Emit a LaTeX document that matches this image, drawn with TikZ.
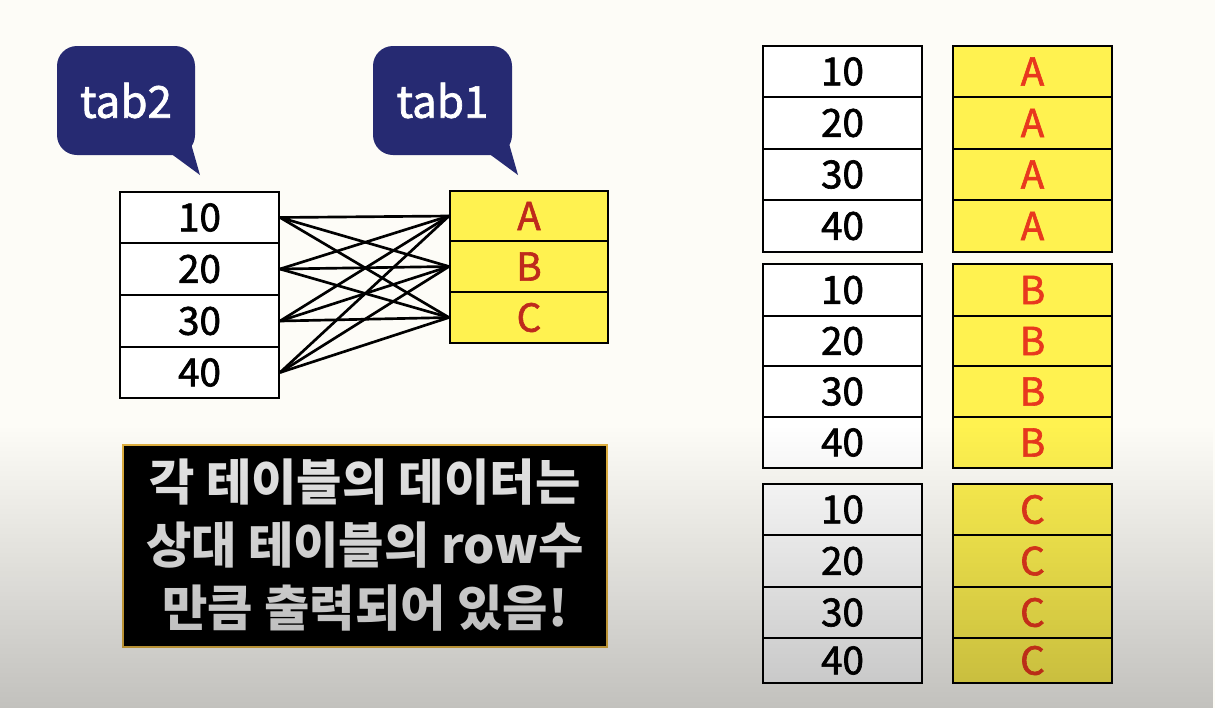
\documentclass[tikz,border=0pt]{standalone}
\usepackage{fontspec}
\setmainfont{Noto Sans CJK KR}
\newfontfamily\medf{Noto Sans CJK KR}[FakeBold=1.6]
\usetikzlibrary{fit,fadings}
\definecolor{bg}{HTML}{FDFCF7}
\definecolor{navy}{HTML}{262A72}
\definecolor{yel}{HTML}{FFF250}
\definecolor{dred}{HTML}{BE2A1C}
\definecolor{bred}{HTML}{E8381E}
\definecolor{gold}{HTML}{E0B040}
\definecolor{txtw}{HTML}{E8E8E8}
\tikzset{
  cellbox/.style={draw=black, line width=1.5pt, inner sep=0pt, fill=white},
  ycellbox/.style={cellbox, fill=yel},
  numtxt/.style={font=\medf\fontsize{29pt}{32pt}\selectfont, text=black},
  lettxt/.style={font=\medf\fontsize{29pt}{32pt}\selectfont, text=#1},
  bubble/.style={fill=navy, rounded corners=15pt, inner sep=0pt, text=white, font=\medf\fontsize{33pt}{36pt}\selectfont},
  link/.style={draw=black, line width=2pt},
}
\begin{document}
\begin{tikzpicture}[x=0.75pt, y=-0.75pt]
\useasboundingbox (0,0) rectangle (1215,708);
\fill[bg] (0,0) rectangle (1215,708);

% callouts
\node[bubble, minimum width=103.5pt, minimum height=81.75pt] (c2) at (126,100.5) {tab2};
\fill[navy] (166,150) -- (200,175) -- (190,140) -- cycle;
\node[bubble, minimum width=104.25pt, minimum height=81.75pt] (c1) at (442.5,100.5) {tab1};
\fill[navy] (484,150) -- (518,175) -- (508,140) -- cycle;

% left tab2
\foreach \n/\t/\ya/\yb in {10/10/192/243, 20/20/243/295, 30/30/295/347, 40/40/347/398}{
  \node[cellbox, fit={(120,\ya)(279,\yb)}] (L\n) {};
  \node[numtxt] (L\n t) at (L\n.center) {\t};
}
% left tab1
\foreach \n/\ya/\yb in {A/191/241, B/241/292, C/292/343}{
  \node[ycellbox, fit={(450,\ya)(608,\yb)}] (R\n) {};
  \node[lettxt=dred] (R\n t) at (R\n.center) {\n};
}
% connectors
\foreach \a in {10,20,30,40}{
  \foreach \b in {A,B,C}{
    \draw[link] (L\a.east) -- (R\b.west);
  }
}

% black box
\node[fill=black, draw=gold, line width=1.2pt, inner sep=0pt, fit={(123,445)(607,647)}] (msg) {};
\node[text=txtw, align=center, font=\bfseries\fontsize{37pt}{47pt}\selectfont] (msgt) at (365,545) {각 테이블의 데이터는\\상대 테이블의 row수\\만큼 출력되어 있음!};

% right groups
\foreach \g/\L/\ra/\rb/\rc/\rd/\re in {1/A/46/97/149/200/252, 2/B/264/316/366/417/468, 3/C/484/535/587/638/683}{
  \foreach \n/\ya/\yb in {10/\ra/\rb, 20/\rb/\rc, 30/\rc/\rd, 40/\rd/\re}{
    \node[cellbox, fit={(763,\ya)(922,\yb)}] (G\g n\n) {};
    \node[numtxt] (G\g n\n t) at (G\g n\n.center) {\n};
    \node[ycellbox, fit={(953,\ya)(1112,\yb)}] (G\g l\n) {};
    \node[lettxt=bred] (G\g l\n t) at (G\g l\n.center) {\L};
  }
}

% bottom shade
\fill[black, opacity=0.23, path fading=north] (0,425) rectangle (1215,708);
\end{tikzpicture}
\end{document}
